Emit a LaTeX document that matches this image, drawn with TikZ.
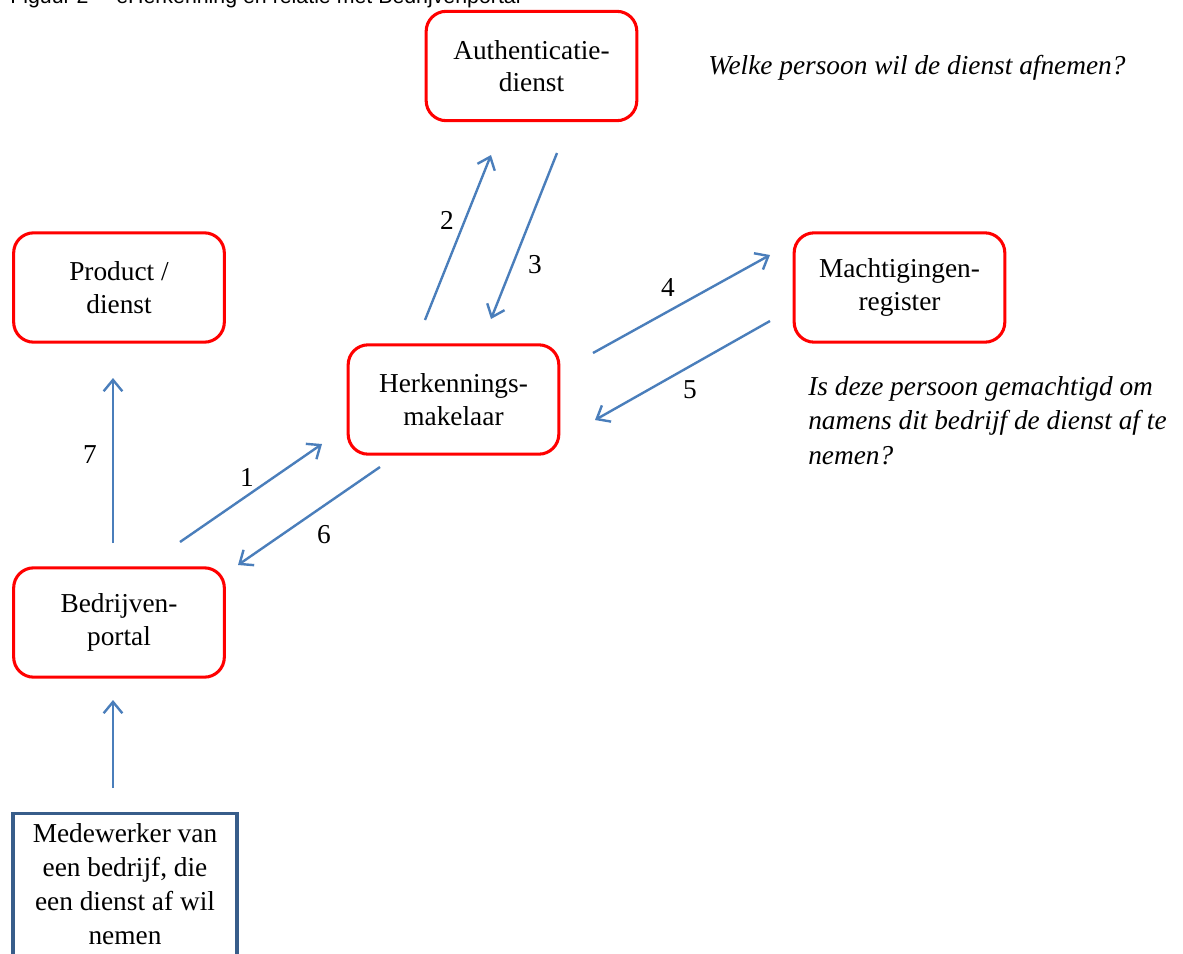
\documentclass[tikz,border=0pt]{standalone}
\usepackage{fontspec}
\setmainfont{Liberation Serif}
\newfontfamily\capfont{Liberation Sans}
\usetikzlibrary{arrows.meta}
\definecolor{boxred}{HTML}{FF0000}
\definecolor{arrowblue}{HTML}{4A7EBB}
\definecolor{medblue}{HTML}{385D8A}
\tikzset{
  redbox/.style={draw=boxred, line width=2.3pt, rounded corners=15pt, fill=white,
    minimum width=158pt, minimum height=82pt, align=center,
    font=\fontsize{20.5}{24.5}\selectfont},
  medbox/.style={draw=medblue, line width=2.3pt, minimum width=168pt, minimum height=150pt},
  flow/.style={draw=arrowblue, line width=1.8pt, -{Straight Barb[length=8.5pt,width=14pt,line width=1.8pt]}},
  num/.style={font=\fontsize{20.5}{24}\selectfont, inner sep=0pt},
  note/.style={font=\fontsize{20.5}{26}\selectfont\itshape, align=left, inner sep=0pt},
  captext/.style={anchor=base west, inner sep=0pt, font=\capfont\fontsize{16}{18}\selectfont},
}
\begin{document}
\begin{tikzpicture}[x=0.75pt, y=-0.75pt]
\useasboundingbox (0,0) rectangle (1183,954);
\clip (0,0) rectangle (1183,954);
\fill[white] (0,0) rectangle (1183,954);

% caption (cut off at the top edge, as in the reference)
\node[captext] (cap1) at (10,3) {Figuur 2};
\node[captext] (cap2) at (116,3) {eHerkenning en relatie met Bedrijvenportal};

% boxes
\node[redbox] (auth) at (531.5,66) {Authenticatie-\\dienst};
\node[redbox] (prod) at (119,287.5) {Product /\\dienst};
\node[redbox] (macht) at (899.5,287.5) {Machtigingen-\\register};
\node[redbox] (herk) at (453.5,399.5) {Herkennings-\\makelaar};
\node[redbox] (bedr) at (119,622.5) {Bedrijven-\\portal};
\node[medbox, anchor=north] (med) at (125,812) {};
\node[align=center, inner sep=0pt, font=\fontsize{20.5}{25.5}\selectfont] (medtext) at (125,884)
  {Medewerker van\\een bedrijf, die\\een dienst af wil\\nemen};

% notes
\node[note, anchor=west] (q1) at (708,68) {Welke persoon wil de dienst afnemen?};
\node[note, anchor=north west] (q2) at (808,376) {Is deze persoon gemachtigd om\\namens dit bedrijf de dienst af te\\nemen?};

% connector end points
\coordinate (a2s) at (425,320); \coordinate (a2e) at (491,155);
\coordinate (a3s) at (557,153); \coordinate (a3e) at (491,319);
\coordinate (a4s) at (593,353); \coordinate (a4e) at (770,255);
\coordinate (a5s) at (770,321); \coordinate (a5e) at (595,420);
\coordinate (a1s) at (180,542); \coordinate (a1e) at (322,444);
\coordinate (a6s) at (380,467); \coordinate (a6e) at (238,565);
\coordinate (a7s) at (113,543); \coordinate (a7e) at (113,378);
\coordinate (a8s) at (113,788); \coordinate (a8e) at (113,700);

\draw[flow] (a2s) -- (a2e);
\draw[flow] (a3s) -- (a3e);
\draw[flow] (a4s) -- (a4e);
\draw[flow] (a5s) -- (a5e);
\draw[flow] (a1s) -- (a1e);
\draw[flow] (a6s) -- (a6e);
\draw[flow] (a7s) -- (a7e);
\draw[flow] (a8s) -- (a8e);

% labels
\node[num] (n1) at (247,477) {1};
\node[num] (n2) at (447,220) {2};
\node[num] (n3) at (535,265) {3};
\node[num] (n4) at (668,287) {4};
\node[num] (n5) at (690,390) {5};
\node[num] (n6) at (324,535) {6};
\node[num] (n7) at (90,455) {7};
\end{tikzpicture}
\end{document}
